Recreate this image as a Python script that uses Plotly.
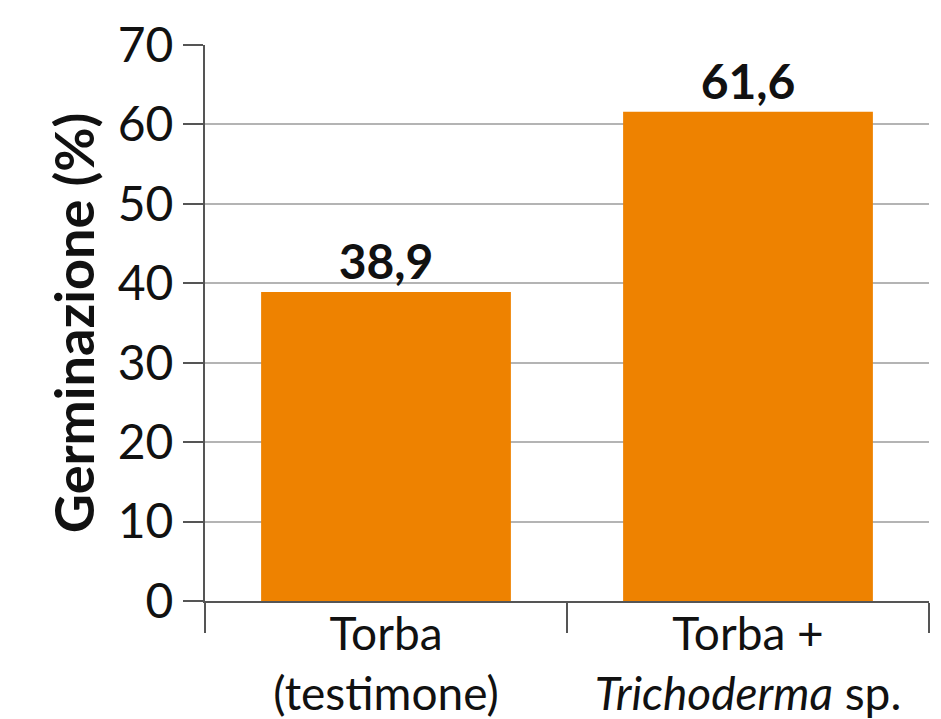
import plotly.graph_objects as go

categories = ["Torba<br>(testimone)", "Torba +<br><i>Trichoderma</i> sp."]
germinazione = [38.9, 61.6]
y_ticks = [0, 10, 20, 30, 40, 50, 60, 70]

fig = go.Figure()
fig.add_trace(go.Bar(
    x=categories,
    y=germinazione,
    marker=dict(color="#EE8200", line=dict(width=0)),
    width=0.69,
    texttemplate="%{y:.1f}",
    textposition="outside",
    textfont=dict(family="Lato, Arial, sans-serif", size=48, color="#111111", weight="bold"),
    cliponaxis=False,
))

fig.update_layout(
    width=941, height=719,
    margin=dict(l=205, r=12, t=45, b=118),
    paper_bgcolor="white",
    plot_bgcolor="white",
    separators=",.",
    showlegend=False,
    font=dict(family="Lato, Arial, sans-serif", color="#111111"),
)

fig.update_xaxes(
    type="category",
    tickson="boundaries",
    ticks="outside",
    ticklen=30,
    tickwidth=2,
    tickcolor="#555555",
    showline=True,
    linecolor="#555555",
    linewidth=2,
    showgrid=False,
    tickfont=dict(size=46, color="#111111"),
    ticklabelstandoff=-8,
    automargin=False,
)

fig.update_yaxes(
    range=[0, 70],
    tickvals=y_ticks,
    ticks="outside",
    ticklen=20,
    tickwidth=2,
    tickcolor="#555555",
    showline=True,
    linecolor="#555555",
    linewidth=2,
    showgrid=True,
    gridcolor="#b4b4b4",
    gridwidth=1.5,
    zeroline=False,
    tickfont=dict(size=48, color="#111111"),
    title=dict(text="<b>Germinazione (%)</b>", font=dict(size=54, color="#111111"), standoff=6),
    automargin=False,
)

fig.write_html("out.html")
